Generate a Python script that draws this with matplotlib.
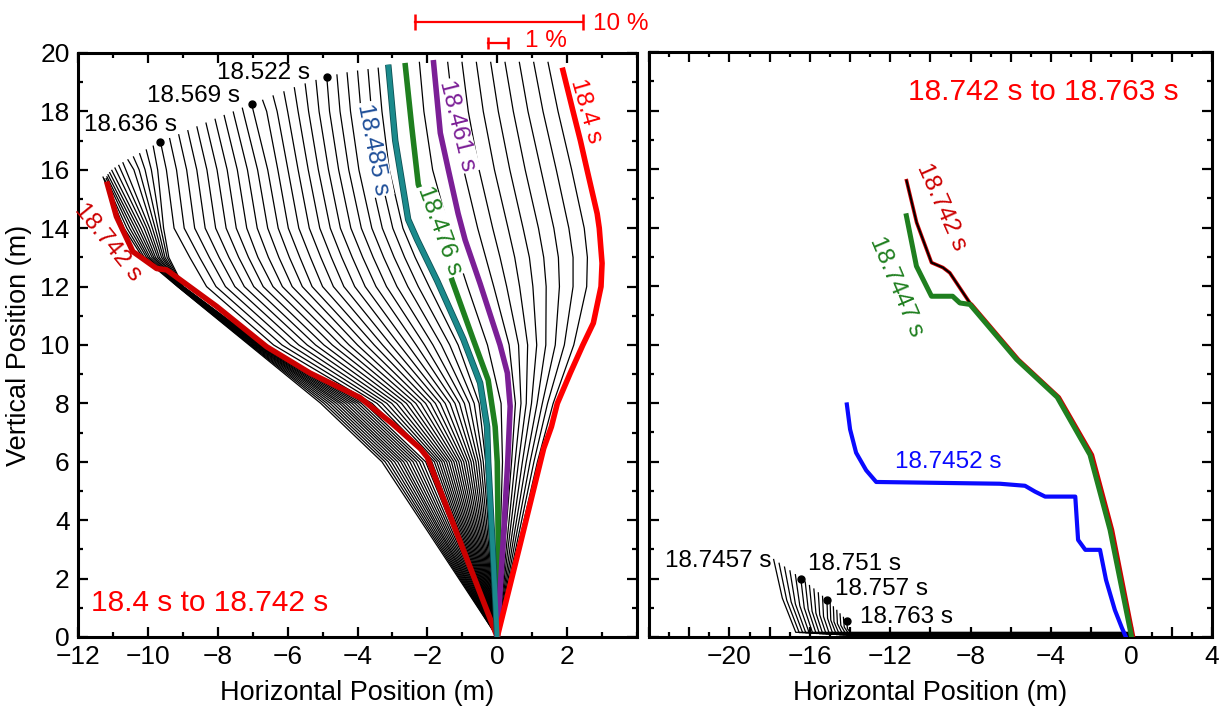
import numpy as np
import matplotlib
matplotlib.use('Agg')
import matplotlib.pyplot as plt
from matplotlib.ticker import MultipleLocator, FixedLocator, FuncFormatter

plt.rcParams['font.family'] = ['Liberation Sans', 'DejaVu Sans']

# ---------------- LEFT PANEL DATA (18.4 s to 18.742 s) ----------------
red184_x = [0, 0.62, 1.33, 1.55, 1.72, 2.09, 2.45, 2.75, 2.97, 3.0, 2.92, 2.86, 2.57, 2.38, 2.17, 1.86]
red184_y = [0, 3.0, 6.46, 7.2, 8.0, 9.04, 10.0, 10.75, 12.0, 12.8, 14.0, 14.5, 16.0, 17.0, 18.0, 19.5]
pur461_x = [0, 0.17, 0.30, 0.37, 0.29, 0.08, -0.49, -0.92, -1.12, -1.40, -1.63, -1.83]
pur461_y = [0, 3.3, 6.0, 7.9, 9.04, 10.0, 12.1, 13.6, 14.5, 16.0, 17.26, 19.76]
grn476_x = [0, 0.03, 0.0, -0.06, -0.26, -0.69, -1.29, -1.78, -2.26, -2.45, -2.64]
grn476_y = [0, 3.0, 6.0, 7.2, 8.8, 10.2, 12.2, 14.0, 15.5, 17.5, 19.66]
teal485_x = [0, -0.14, -0.26, -0.29, -0.49, -0.97, -1.72, -2.29, -2.55, -2.92, -3.12]
teal485_y = [0, 3.3, 6.0, 7.2, 8.7, 10.2, 12.2, 13.6, 14.3, 17.0, 19.6]
dred742_x = [0, -2.0, -2.2, -3.0, -3.93, -5.36, -6.6, -8.03, -9.46, -9.75, -10.43, -10.9, -11.18]
dred742_y = [0, 6.15, 6.45, 7.3, 8.2, 9.04, 9.94, 11.32, 12.57, 12.62, 13.2, 14.4, 15.6]

# thin black frames: x at these heights, then the channel tip
frame_heights = [0, 6, 8, 10, 12, 13, 14, 16, 18]
nan = float('nan')
frames_x = [
    [0, 1.15, 1.60, 2.19, 2.56, 2.58, 2.49, 2.13, 1.74],
    [0, 1.05, 1.44, 1.92, 2.17, 2.17, 2.05, 1.69, 1.31],
    [0, 0.94, 1.29, 1.66, 1.78, 1.75, 1.62, 1.25, 0.88],
    [0, 0.83, 1.14, 1.39, 1.40, 1.33, 1.18, 0.80, 0.46],
    [0, 0.72, 0.98, 1.13, 1.02, 0.92, 0.74, 0.36, 0.03],
    [0, 0.61, 0.83, 0.87, 0.64, 0.50, 0.31, -0.08, -0.40],
    [0, 0.51, 0.68, 0.61, 0.27, 0.08, -0.13, -0.52, -0.83],
    [0, 0.41, 0.52, 0.34, -0.10, -0.33, -0.56, -0.96, -1.26],
    [0, 0.15, 0.11, -0.28, -0.85, -1.12, -1.39, -1.85, -2.10],
    [0, -0.33, -0.52, -1.12, -1.95, -2.35, -2.70, -3.09, -3.30],
    [0, -0.40, -0.66, -1.36, -2.26, -2.65, -2.99, -3.38, -3.60],
    [0, -0.47, -0.80, -1.60, -2.56, -2.95, -3.29, -3.67, -3.90],
    [0, -0.54, -0.94, -1.84, -2.87, -3.25, -3.59, -3.96, -4.20],
    [0, -0.61, -1.08, -2.08, -3.17, -3.55, -3.89, -4.25, -4.50],
    [0, -0.68, -1.21, -2.32, -3.47, -3.85, -4.19, -4.54, -4.80],
    [0, -0.75, -1.35, -2.56, -3.78, -4.15, -4.49, -4.83, -5.10],
    [0, -0.82, -1.49, -2.80, -4.08, -4.45, -4.78, -5.12, -5.40],
    [0, -0.89, -1.63, -3.04, -4.39, -4.75, -5.08, -5.41, -5.70],
    [0, -0.96, -1.77, -3.28, -4.69, -5.05, -5.38, -5.70, -6.00],
    [0, -1.03, -1.91, -3.52, -5.00, -5.35, -5.68, -5.99, -6.30],
    [0, -1.10, -2.05, -3.76, -5.30, -5.65, -5.98, -6.28, -6.60],
    [0, -1.17, -2.19, -4.00, -5.58, -5.95, -6.27, -6.57, nan],
    [0, -1.24, -2.33, -4.24, -5.87, -6.25, -6.57, -6.86, nan],
    [0, -1.31, -2.47, -4.48, -6.15, -6.55, -6.87, -7.15, nan],
    [0, -1.38, -2.60, -4.72, -6.42, -6.85, -7.17, -7.44, nan],
    [0, -1.45, -2.74, -4.96, -6.70, -7.12, -7.47, -7.73, nan],
    [0, -1.52, -2.88, -5.20, -6.97, -7.40, -7.76, -8.02, nan],
    [0, -1.59, -3.02, -5.44, -7.24, -7.68, -8.06, -8.31, nan],
    [0, -1.66, -3.16, -5.68, -7.51, -7.96, -8.36, -8.60, nan],
    [0, -1.73, -3.30, -5.92, -7.78, -8.24, -8.66, -8.89, nan],
    [0, -1.80, -3.44, -6.16, -8.05, -8.52, -8.96, -9.18, nan],
    [0, -1.87, -3.58, -6.40, -8.32, -8.80, -9.25, -9.47, nan],
    [0, -2.05, -3.80, -6.72, -8.98, -9.40, -9.55, -9.72, nan],
    [0, -2.14, -3.89, -6.75, -8.99, -9.45, -9.63, -9.90, nan],
    [0, -2.23, -3.98, -6.77, -9.00, -9.51, -9.71, -10.08, nan],
    [0, -2.32, -4.07, -6.80, -9.02, -9.56, -9.79, -10.25, nan],
    [0, -2.41, -4.16, -6.83, -9.03, -9.61, -9.87, -10.40, nan],
    [0, -2.50, -4.25, -6.86, -9.04, -9.67, -9.95, nan, nan],
    [0, -2.59, -4.34, -6.88, -9.05, -9.72, -10.03, nan, nan],
    [0, -2.68, -4.43, -6.91, -9.06, -9.78, -10.11, nan, nan],
    [0, -2.76, -4.51, -6.94, -9.08, -9.83, -10.20, nan, nan],
    [0, -2.85, -4.60, -6.96, -9.09, -9.88, -10.28, nan, nan],
    [0, -2.94, -4.69, -6.99, -9.10, -9.94, -10.36, nan, nan],
    [0, -3.03, -4.78, -7.02, -9.11, -9.99, -10.44, nan, nan],
    [0, -3.12, -4.87, -7.05, -9.13, -10.04, -10.52, nan, nan],
    [0, -3.21, -4.96, -7.07, -9.14, -10.10, -10.60, nan, nan],
    [0, -3.30, -5.05, -7.10, -9.15, -10.15, -10.68, nan, nan],
]
tips_x = [1.45, 1.04, 0.63, 0.22, -0.19, -0.60, -1.01, -1.42, -2.23,
          -3.41, -3.70, -4.00, -4.30, -4.59, -4.88, -5.19, -5.50, -5.81, -6.11,
          -6.42, -6.72, -7.03, -7.30, -7.56, -7.82, -8.08, -8.34, -8.60,
          -8.86, -9.12, -9.38, -9.64, -9.85, -10.05, -10.24, -10.42, -10.58,
          -10.72, -10.84, -10.95, -11.04, -11.10, -11.15, -11.18, -11.20, -11.25, -11.29]
tips_y = [19.7, 19.7, 19.7, 19.7, 19.7, 19.7, 19.7, 19.7, 19.7,
          19.50, 19.45, 19.40, 19.34, 19.27, 19.19, 19.08, 18.96, 18.83, 18.69,
          18.55, 18.40, 18.25, 18.13, 18.00, 17.88, 17.75, 17.62, 17.49,
          17.36, 17.22, 17.09, 16.96, 16.83, 16.70, 16.57, 16.46, 16.36,
          16.26, 16.17, 16.08, 16.00, 15.92, 15.85, 15.78, 15.72, 15.70, 15.77]

dot_labels = ['18.522 s', '18.569 s', '18.636 s']
dot_x = [-4.88, -7.03, -9.64]
dot_y = [19.19, 18.25, 16.96]

bar10_x = [-2.35, 2.45]
bar10_y = 21.05
bar1_x = [-0.26, 0.32]
bar1_y = 20.35

# ---------------- RIGHT PANEL DATA (18.742 s to 18.763 s) ----------------
red742R_x = [0.1, -0.95, -1.95, -3.6, -5.62, -7.95, -8.04, -9.04, -9.38, -9.95, -10.69, -11.19]
red742R_y = [0.0, 3.66, 6.23, 8.2, 9.49, 11.37, 11.42, 12.45, 12.63, 12.8, 14.17, 15.6]
blk742_x = [-8.04, -9.04, -9.38, -9.95, -10.69, -11.19]
blk742_y = [11.42, 12.45, 12.63, 12.8, 14.17, 15.6]
grn7447_x = [0.0, -1.07, -2.07, -3.7, -5.72, -8.04, -8.54, -8.9, -9.95, -10.7, -11.2]
grn7447_y = [0.0, 3.66, 6.23, 8.2, 9.49, 11.37, 11.42, 11.65, 11.65, 12.68, 14.4]
blu7452_x = [-0.28, -0.48, -0.83, -1.27, -1.57, -2.3, -2.66, -2.8, -4.3, -4.8, -5.3,
             -6.55, -12.7, -13.2, -13.7, -14.0, -14.16]
blu7452_y = [0.0, 0.31, 0.92, 1.95, 2.98, 2.98, 3.32, 4.8, 4.8, 4.97, 5.17,
             5.24, 5.3, 5.7, 6.3, 7.1, 7.95]

fan_tip_x = [-17.80, -17.53, -17.26, -16.99, -16.72, -16.45, -16.23, -16.02, -15.80,
             -15.58, -15.37, -15.15, -14.99, -14.83, -14.66, -14.50, -14.33, -14.17]
fan_tip_y = [2.65, 2.52, 2.39, 2.26, 2.13, 2.00, 1.88, 1.76, 1.64,
             1.51, 1.39, 1.27, 1.15, 1.03, 0.91, 0.79, 0.67, 0.55]
fan_mid_x = [-17.37, -17.15, -16.93, -16.72, -16.50, -16.28, -16.08, -15.89, -15.70,
             -15.51, -15.32, -15.12, -14.96, -14.80, -14.63, -14.46, -14.29, -14.13]
fan_mid_y = [1.33, 1.26, 1.20, 1.13, 1.07, 1.00, 0.94, 0.88, 0.82,
             0.76, 0.70, 0.64, 0.58, 0.52, 0.46, 0.40, 0.34, 0.28]
fan_base_x = [-16.70, -16.53, -16.36, -16.20, -16.03, -15.86, -15.69, -15.52, -15.36,
              -15.19, -15.02, -14.85, -14.68, -14.52, -14.35, -14.18, -14.01, -13.85]
fan_ground_y = [0.16, 0.15, 0.15, 0.14, 0.13, 0.13, 0.12, 0.11, 0.11,
                0.10, 0.09, 0.09, 0.08, 0.07, 0.07, 0.06, 0.05, 0.05]
ground_end_x = 0.0
fan_dot_labels = ['18.751 s', '18.757 s', '18.763 s']
fan_dot_x = [-16.45, -15.15, -14.17]
fan_dot_y = [2.00, 1.27, 0.55]

# ---------------- COLOURS ----------------
C_RED = '#ff0000'
C_DRED = '#cc0000'
C_PUR = '#7b1f96'
C_GRN = '#1f7f1f'
C_TEAL = '#1b8a8c'
C_BLUETXT = '#1f4f99'
C_BLUE = '#0a0aff'

# ---------------- FIGURE ----------------
fig = plt.figure(figsize=(12.2, 7.18), dpi=100)
axL = fig.add_axes([78 / 1220, 81 / 718, 559 / 1220, 584 / 718])
axR = fig.add_axes([649 / 1220, 81 / 718, 563 / 1220, 585 / 718])

TXT = 17.5
BIG = 21.5

# ---- left panel ----
for xs, tx, ty in zip(frames_x, tips_x, tips_y):
    px = [x for x in xs if not np.isnan(x)]
    py = [h for x, h in zip(xs, frame_heights) if not np.isnan(x)]
    axL.plot(px + [tx], py + [ty], color='k', lw=0.9, zorder=2,
             solid_joinstyle='round', solid_capstyle='butt')

axL.plot(grn476_x, grn476_y, color=C_GRN, lw=4, zorder=2.5, solid_capstyle='butt')
axL.plot(dred742_x, dred742_y, color=C_DRED, lw=4, zorder=4, solid_capstyle='butt')
axL.plot(teal485_x, teal485_y, color='#0d4f52', lw=4.6, zorder=4, solid_capstyle='butt')
axL.plot(teal485_x, teal485_y, color=C_TEAL, lw=3.4, zorder=4.1, solid_capstyle='butt')
axL.plot(pur461_x, pur461_y, color=C_PUR, lw=4, zorder=4, solid_capstyle='butt')
axL.plot(red184_x, red184_y, color=C_RED, lw=4, zorder=4, solid_capstyle='butt')

bb = dict(facecolor='white', edgecolor='none', pad=1.0)
axL.text(2.54, 18.0, '18.4 s', color=C_RED, fontsize=TXT, rotation=-74,
         ha='center', va='center', rotation_mode='anchor', bbox=bb, zorder=3)
axL.text(-1.15, 17.5, '18.461 s', color=C_PUR, fontsize=TXT, rotation=-76,
         ha='center', va='center', rotation_mode='anchor', bbox=bb, zorder=3)
axL.text(-3.55, 16.7, '18.485 s', color=C_BLUETXT, fontsize=TXT, rotation=-79,
         ha='center', va='center', rotation_mode='anchor', bbox=bb, zorder=3)
axL.text(-1.66, 13.9, '18.476 s', color=C_GRN, fontsize=TXT, rotation=-70,
         ha='center', va='center', rotation_mode='anchor', bbox=bb, zorder=3)
axL.text(-11.15, 13.5, '18.742 s', color=C_DRED, fontsize=TXT, rotation=-51,
         ha='center', va='center', rotation_mode='anchor', zorder=3)

axL.plot(dot_x, dot_y, 'o', color='k', ms=5, zorder=5)
lab_pos = [(-5.36, 19.32), (-7.36, 18.53), (-9.18, 17.53)]
for lab, (lx, ly) in zip(dot_labels, lab_pos):
    axL.text(lx, ly, lab, fontsize=TXT, ha='right', va='center', zorder=5)

axL.text(-11.62, 1.16, '18.4 s to 18.742 s', color=C_RED, fontsize=BIG,
         ha='left', va='center')

axL.plot(bar10_x, [bar10_y, bar10_y], color=C_RED, lw=1.6, clip_on=False,
         marker='|', ms=11, mew=1.8)
axL.plot(bar1_x, [bar1_y, bar1_y], color=C_RED, lw=1.6, clip_on=False,
         marker='|', ms=9, mew=1.8)
axL.text(2.75, 21.0, '10 %', color=C_RED, fontsize=TXT, ha='left', va='center',
         clip_on=False)
axL.text(0.80, 20.42, '1 %', color=C_RED, fontsize=TXT, ha='left', va='center',
         clip_on=False)

axL.set_xlim(-12, 4)
axL.set_ylim(0, 20)
axL.xaxis.set_major_locator(FixedLocator(list(range(-12, 4, 2))))
axL.xaxis.set_minor_locator(MultipleLocator(1))
axL.yaxis.set_major_locator(MultipleLocator(2))
axL.yaxis.set_minor_locator(MultipleLocator(1))
axL.set_xlabel('Horizontal Position (m)', fontsize=19.5, labelpad=8)
axL.set_ylabel('Vertical Position (m)', fontsize=19.5, labelpad=6)

# ---- right panel ----
for tx, ty, mx, my, bx, gy in zip(fan_tip_x, fan_tip_y, fan_mid_x, fan_mid_y,
                                  fan_base_x, fan_ground_y):
    axR.plot([tx, mx, bx, ground_end_x], [ty, my, gy, gy],
             color='k', lw=0.9, zorder=2)
axR.plot(fan_dot_x, fan_dot_y, 'o', color='k', ms=5, zorder=5)
fan_lab_pos = [(-16.1, 2.5), (-14.76, 1.63), (-13.5, 0.7)]
for lab, (lx, ly) in zip(fan_dot_labels, fan_lab_pos):
    axR.text(lx, ly, lab, fontsize=TXT, ha='left', va='center')
axR.text(-17.9, 2.6, '18.7457 s', fontsize=TXT, ha='right', va='center')

axR.plot(red742R_x, red742R_y, color=C_DRED, lw=2.6, zorder=3)
axR.plot(blk742_x, blk742_y, color='k', lw=1.4, zorder=3.2)
axR.plot(grn7447_x, grn7447_y, color=C_GRN, lw=3.6, zorder=3.5)
axR.plot(blu7452_x, blu7452_y, color=C_BLUE, lw=3.0, zorder=3.5)

axR.text(-9.48, 14.69, '18.742 s', color=C_DRED, fontsize=TXT, rotation=-66,
         ha='center', va='center', rotation_mode='anchor')
axR.text(-11.72, 11.99, '18.7447 s', color=C_GRN, fontsize=TXT, rotation=-67,
         ha='center', va='center', rotation_mode='anchor')
axR.text(-9.13, 6.0, '18.7452 s', color=C_BLUE, fontsize=TXT, ha='center', va='center')
axR.text(-11.12, 18.63, '18.742 s to 18.763 s', color=C_RED, fontsize=BIG,
         ha='left', va='center')

axR.set_xlim(-24, 4)
axR.set_ylim(0, 20)
axR.xaxis.set_major_locator(FixedLocator(list(range(-24, 5, 2))))
axR.xaxis.set_major_formatter(FuncFormatter(
    lambda v, p: ('\u2212%d' % abs(v) if v < 0 else '%d' % v)
    if (int(round(v)) % 4 == 0 and v > -23) else ''))
axR.xaxis.set_minor_locator(MultipleLocator(1))
axR.yaxis.set_major_locator(MultipleLocator(2))
axR.yaxis.set_minor_locator(MultipleLocator(1))
axR.set_xlabel('Horizontal Position (m)', fontsize=19.5, labelpad=8)

for ax in (axL, axR):
    for sp in ax.spines.values():
        sp.set_linewidth(2.2)
    ax.tick_params(which='both', direction='in', top=True, right=True, width=1.6)
    ax.tick_params(which='major', length=7, labelsize=19, pad=6)
    ax.tick_params(which='minor', length=3.5)
axR.tick_params(axis='y', which='both', labelleft=False)

fig.savefig('out.png', dpi=100)
